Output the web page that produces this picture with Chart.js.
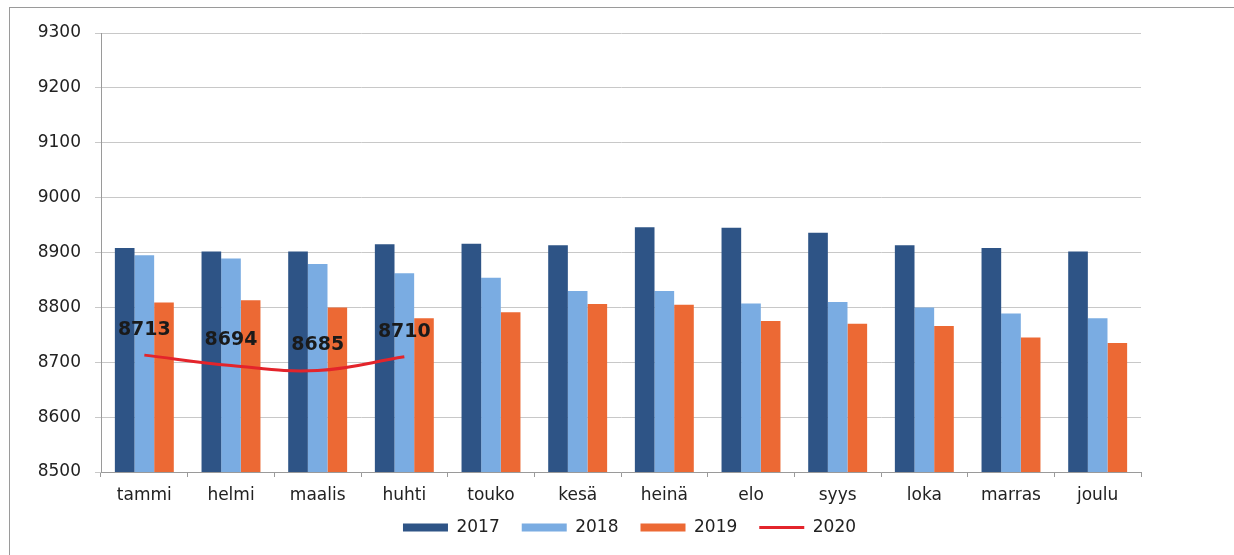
<!DOCTYPE html>
<html>
<head>
<meta charset="utf-8">
<script src="https://cdn.jsdelivr.net/npm/chart.js@4"></script>
<style>
  html, body { margin: 0; padding: 0; background: #ffffff; }
  #wrap { position: relative; width: 1234px; height: 555px; overflow: hidden; }
  #frame { position: absolute; left: 9px; top: 7px; width: 1300px; height: 600px;
           border-top: 1px solid #9a9a9a; border-left: 1px solid #9a9a9a; }
  canvas { position: absolute; left: 0; top: 0; }
</style>
</head>
<body>
<div id="wrap">
  <div id="frame"></div>
  <canvas id="c" width="1234" height="555"></canvas>
</div>
<script>
const months = ['tammi','helmi','maalis','huhti','touko','kesä','heinä','elo','syys','loka','marras','joulu'];
const values2017 = [8908, 8902, 8902, 8915, 8916, 8913, 8946, 8945, 8936, 8913, 8908, 8902];
const values2018 = [8895, 8889, 8879, 8862, 8854, 8830, 8830, 8807, 8810, 8800, 8789, 8780];
const values2019 = [8809, 8813, 8800, 8780, 8791, 8806, 8805, 8775, 8770, 8766, 8745, 8735];
const values2020 = [8713, 8694, 8685, 8710, null, null, null, null, null, null, null, null];
const yTicks = [8500, 8600, 8700, 8800, 8900, 9000, 9100, 9200, 9300];

const FONT = "'DejaVu Sans', sans-serif";

const lineLabels = {
  id: 'lineLabels',
  afterDatasetsDraw(chart) {
    const ctx = chart.ctx;
    chart.data.datasets.forEach((ds, i) => {
      if (ds.type !== 'line') return;
      const meta = chart.getDatasetMeta(i);
      ctx.save();
      ctx.font = "bold 19px " + FONT;
      ctx.fillStyle = '#1a1a1a';
      ctx.textAlign = 'center';
      ctx.textBaseline = 'middle';
      meta.data.forEach((pt, j) => {
        const v = ds.data[j];
        if (v === null || v === undefined) return;
        ctx.fillText(String(v), pt.x, pt.y - 25);
      });
      ctx.restore();
    });
  }
};

const shiftLegend = {
  id: 'shiftLegend',
  beforeDraw(chart) {
    const lg = chart.legend;
    if (!lg || lg._shifted) return;
    lg.left += 59; lg.right += 59;
    lg.top -= 15; lg.bottom -= 15;
    lg._shifted = true;
  },
  afterLayout(chart) { if (chart.legend) chart.legend._shifted = false; }
};

new Chart(document.getElementById('c'), {
  data: {
    labels: months,
    datasets: [
      { type: 'line', label: '2020', data: values2020, borderColor: '#e3242b', backgroundColor: '#e3242b',
        borderWidth: 3, pointRadius: 0, tension: 0.4, order: 0, spanGaps: false },
      { type: 'bar', label: '2017', data: values2017, backgroundColor: '#2e5486', order: 1,
        barPercentage: 1.0, categoryPercentage: 0.68 },
      { type: 'bar', label: '2018', data: values2018, backgroundColor: '#7aace2', order: 1,
        barPercentage: 1.0, categoryPercentage: 0.68 },
      { type: 'bar', label: '2019', data: values2019, backgroundColor: '#ec6934', order: 1,
        barPercentage: 1.0, categoryPercentage: 0.68 }
    ]
  },
  options: {
    responsive: false,
    animation: false,
    layout: { padding: { left: 0, right: 93, top: 33, bottom: -6 } },
    plugins: {
      tooltip: { enabled: false },
      legend: {
        position: 'bottom',
        labels: {
          font: { family: FONT, size: 17 },
          color: '#222222',
          padding: 22,
          usePointStyle: true,
          pointStyleWidth: 45,
          boxHeight: 8,
          generateLabels(chart) {
            const order = [1, 2, 3, 0];
            return order.map(i => {
              const ds = chart.data.datasets[i];
              const isLine = ds.type === 'line';
              return {
                text: ds.label,
                datasetIndex: i,
                fillStyle: ds.backgroundColor,
                strokeStyle: isLine ? ds.borderColor : ds.backgroundColor,
                lineWidth: isLine ? 3 : 0,
                pointStyle: isLine ? 'line' : 'rect',
                fontColor: '#222222',
                hidden: false
              };
            });
          }
        }
      }
    },
    scales: {
      x: {
        offset: true,
        grid: { offset: true, drawOnChartArea: false, drawTicks: true, tickLength: 5, color: '#9a9a9a' },
        border: { color: '#9a9a9a' },
        ticks: { font: { family: FONT, size: 17 }, color: '#222222', padding: 8, maxRotation: 0 },
        afterFit(scale) { scale.height = 40; }
      },
      y: {
        min: 8500, max: 9300,
        afterBuildTicks(scale) { scale.ticks = yTicks.map(v => ({ value: v })); },
        grid: { color: '#c8c8c8', tickLength: 6 },
        border: { color: '#9a9a9a' },
        ticks: { font: { family: FONT, size: 17 }, color: '#222222', padding: 14,
                 callback: (v) => String(v) },
        afterFit(scale) { scale.width = 101; }
      }
    }
  },
  plugins: [lineLabels, shiftLegend]
});
</script>
</body>
</html>
